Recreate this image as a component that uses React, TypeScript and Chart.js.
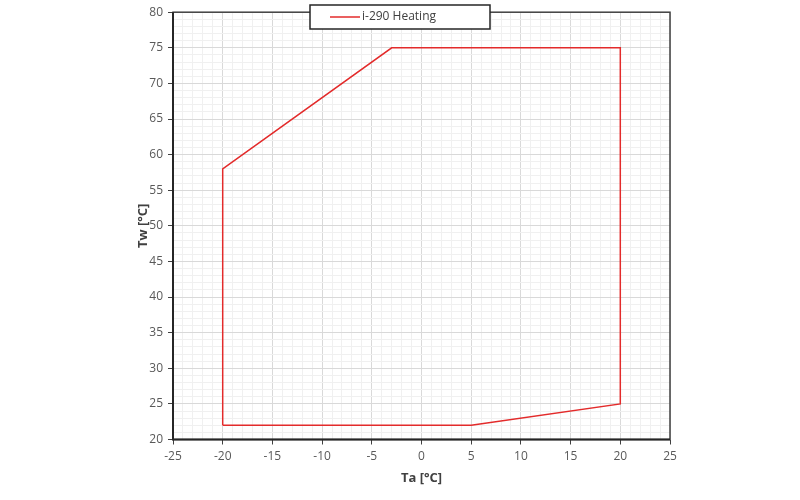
import React, { useEffect, useRef } from 'react';
import { Chart, registerables, Plugin } from 'chart.js';

Chart.register(...registerables);

// operating envelope, i-290 heating
const seriesLabel = 'i-290 Heating';
const ambientTemps = [-20, 5, 20, 20, -3, -20, -20]; // Ta [°C]
const waterTemps = [22, 22, 25, 75, 75, 58, 22]; // Tw [°C]

const xRange = [-25, 25];
const yRange = [20, 80];
const majorStep = 5;

const isMajor = (v: number) => Math.round(v) % majorStep === 0;

const frame: Plugin = {
  id: 'frame',
  afterDraw(chart) {
    const { ctx, chartArea: a } = chart;
    ctx.save();
    ctx.strokeStyle = '#404040';
    ctx.lineWidth = 1.5;
    ctx.strokeRect(a.left, a.top, a.right - a.left, a.bottom - a.top);
    ctx.strokeStyle = '#262626';
    ctx.lineWidth = 2;
    ctx.beginPath();
    ctx.moveTo(a.left, a.top);
    ctx.lineTo(a.left, a.bottom);
    ctx.lineTo(a.right, a.bottom);
    ctx.stroke();

    // legend box
    const ds = chart.data.datasets[0] as any;
    const w = 180;
    const h = 24;
    const x = chart.width / 2 - w / 2;
    const y = 5;
    ctx.fillStyle = '#ffffff';
    ctx.fillRect(x, y, w, h);
    ctx.strokeStyle = '#262626';
    ctx.lineWidth = 1.5;
    ctx.strokeRect(x, y, w, h);
    ctx.strokeStyle = ds.borderColor;
    ctx.lineWidth = 1.5;
    ctx.beginPath();
    ctx.moveTo(x + 20, y + h / 2);
    ctx.lineTo(x + 50, y + h / 2);
    ctx.stroke();
    ctx.fillStyle = '#404040';
    ctx.font = '12px "Open Sans"';
    ctx.textBaseline = 'middle';
    ctx.fillText(ds.label, x + 52, y + h / 2);
    ctx.restore();
  },
};

const App: React.FC = () => {
  const canvasRef = useRef<HTMLCanvasElement>(null);

  useEffect(() => {
    const canvas = canvasRef.current;
    let chart: Chart | null = null;

    if (canvas) {
      chart = new Chart(canvas, {
        type: 'scatter',
        data: {
          datasets: [
            {
              label: seriesLabel,
              data: ambientTemps.map((t, i) => ({ x: t, y: waterTemps[i] })),
              showLine: true,
              borderColor: '#e32b2b',
              borderWidth: 1.5,
              pointRadius: 0,
              tension: 0,
            },
          ],
        },
        options: {
          animation: false,
          responsive: true,
          maintainAspectRatio: false,
          layout: { padding: { left: 128, right: 130, top: 11.5, bottom: 0 } },
          plugins: { legend: { display: false }, tooltip: { enabled: false } },
          scales: {
            x: {
              type: 'linear',
              min: xRange[0],
              max: xRange[1],
              afterFit: (s: any) => {
                s.height = 60.5;
              },
              ticks: {
                stepSize: 1,
                autoSkip: false,
                maxRotation: 0,
                padding: 5,
                color: '#595959',
                font: { family: '"Open Sans"', size: 12 },
                callback: (v: any) => (isMajor(Number(v)) ? String(v) : ''),
              },
              grid: {
                color: (c: any) => (isMajor(c.tick.value) ? '#d9d9d9' : '#f0f0f0'),
                tickColor: (c: any) => (isMajor(c.tick.value) ? '#404040' : 'rgba(0,0,0,0)'),
                tickLength: 5,
                lineWidth: 1,
              },
              border: { display: false },
              title: {
                display: true,
                text: 'Ta [°C]',
                color: '#404040',
                font: { family: '"Open Sans"', size: 13, weight: 'bold' },
                padding: { top: 0, bottom: 14 },
              },
            },
            y: {
              type: 'linear',
              min: yRange[0],
              max: yRange[1],
              afterFit: (s: any) => {
                s.width = 45;
              },
              ticks: {
                stepSize: 1,
                autoSkip: false,
                padding: 5,
                color: '#595959',
                font: { family: '"Open Sans"', size: 12 },
                callback: (v: any) => (isMajor(Number(v)) ? String(v) : ''),
              },
              grid: {
                color: (c: any) => (isMajor(c.tick.value) ? '#d9d9d9' : '#f0f0f0'),
                tickColor: (c: any) => (isMajor(c.tick.value) ? '#404040' : 'rgba(0,0,0,0)'),
                tickLength: 5,
                lineWidth: 1,
              },
              border: { display: false },
              title: {
                display: true,
                text: 'Tw [°C]',
                color: '#404040',
                font: { family: '"Open Sans"', size: 13, weight: 'bold' },
                padding: { top: 7, bottom: 0 },
              },
            },
          },
        },
        plugins: [frame],
      });
    }

    return () => {
      if (chart) {
        chart.destroy();
      }
    };
  }, []);

  return (
    <div style={{ position: 'fixed', left: 0, top: 0, width: 800, height: 500, background: '#fff' }}>
      <canvas ref={canvasRef}></canvas>
    </div>
  );
};

export default App;
